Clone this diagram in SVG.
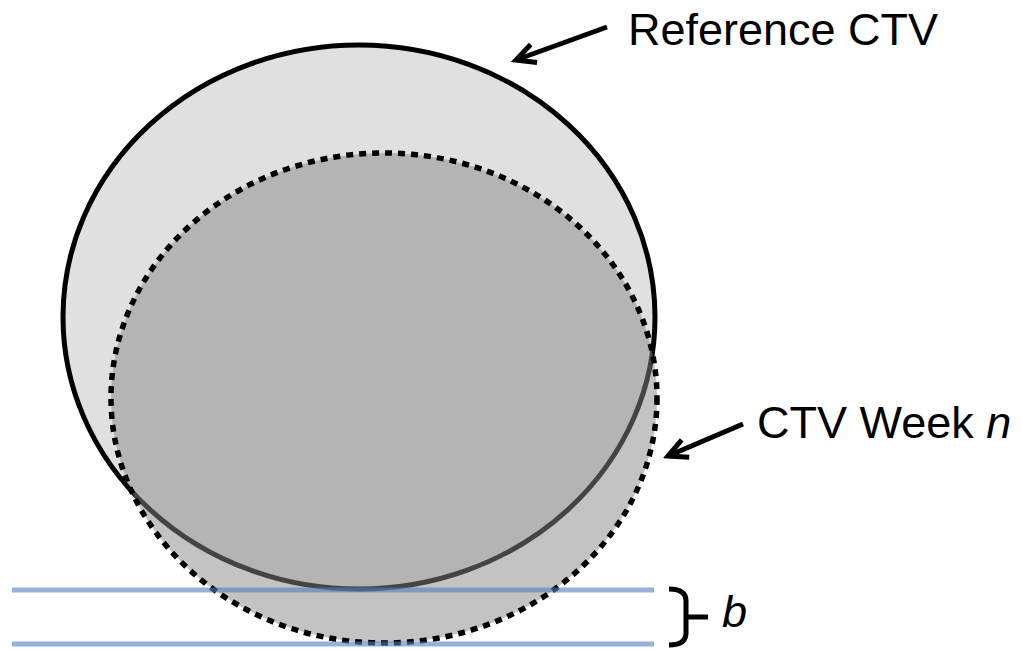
<svg xmlns="http://www.w3.org/2000/svg" width="1022" height="650" viewBox="0 0 1022 650">
  <style>
    .lbl { font-family: "Liberation Sans", Arial, sans-serif; font-size: 45px; fill: #000; }
    .it { font-style: italic; }
    .arrow { fill: none; stroke: #000; stroke-width: 5; }
    .band { stroke: #4f81bd; stroke-opacity: 0.6; stroke-width: 5; fill: none; }
  </style>
  <defs>
    <marker id="ah" viewBox="-25 -15 30 30" refX="0" refY="0" markerWidth="30" markerHeight="30" orient="auto" markerUnits="userSpaceOnUse">
      <path d="M-19,-9.5 L0,0 L-19,9.5" fill="none" stroke="#000" stroke-width="5" stroke-linejoin="miter"/>
    </marker>
  </defs>
  <rect width="1022" height="650" fill="#fff"/>
  <g id="reference-ctv">
    <ellipse cx="359" cy="317" rx="296" ry="272" fill="#e0e0e0" stroke="#000" stroke-width="5"/>
  </g>
  <g id="ctv-week-n">
    <ellipse cx="384" cy="398" rx="273" ry="245" fill="#888" fill-opacity="0.5" stroke="none"/>
    <ellipse cx="384" cy="398" rx="273" ry="245" fill="none" stroke="#000" stroke-width="5.5" stroke-dasharray="7 6"/>
  </g>
  <g id="band">
    <line class="band" x1="12" y1="590" x2="654" y2="590"/>
    <line class="band" x1="12" y1="644" x2="654" y2="644"/>
    <path d="M669,589 Q686,589 686,601 L686,633 Q686,645 669,645 M686,617 L708,617" fill="none" stroke="#000" stroke-width="5"/>
    <text class="lbl it" x="722" y="627">b</text>
  </g>
  <g id="label-reference">
    <text class="lbl" x="628" y="45">Reference CTV</text>
  </g>
  <g id="label-week">
    <text class="lbl" x="757" y="438">CTV Week <tspan class="it">n</tspan></text>
  </g>
  <g id="connectors">
    <line class="arrow" x1="607" y1="27" x2="516" y2="60" marker-end="url(#ah)"/>
    <line class="arrow" x1="743" y1="424" x2="668" y2="456" marker-end="url(#ah)"/>
  </g>
</svg>
